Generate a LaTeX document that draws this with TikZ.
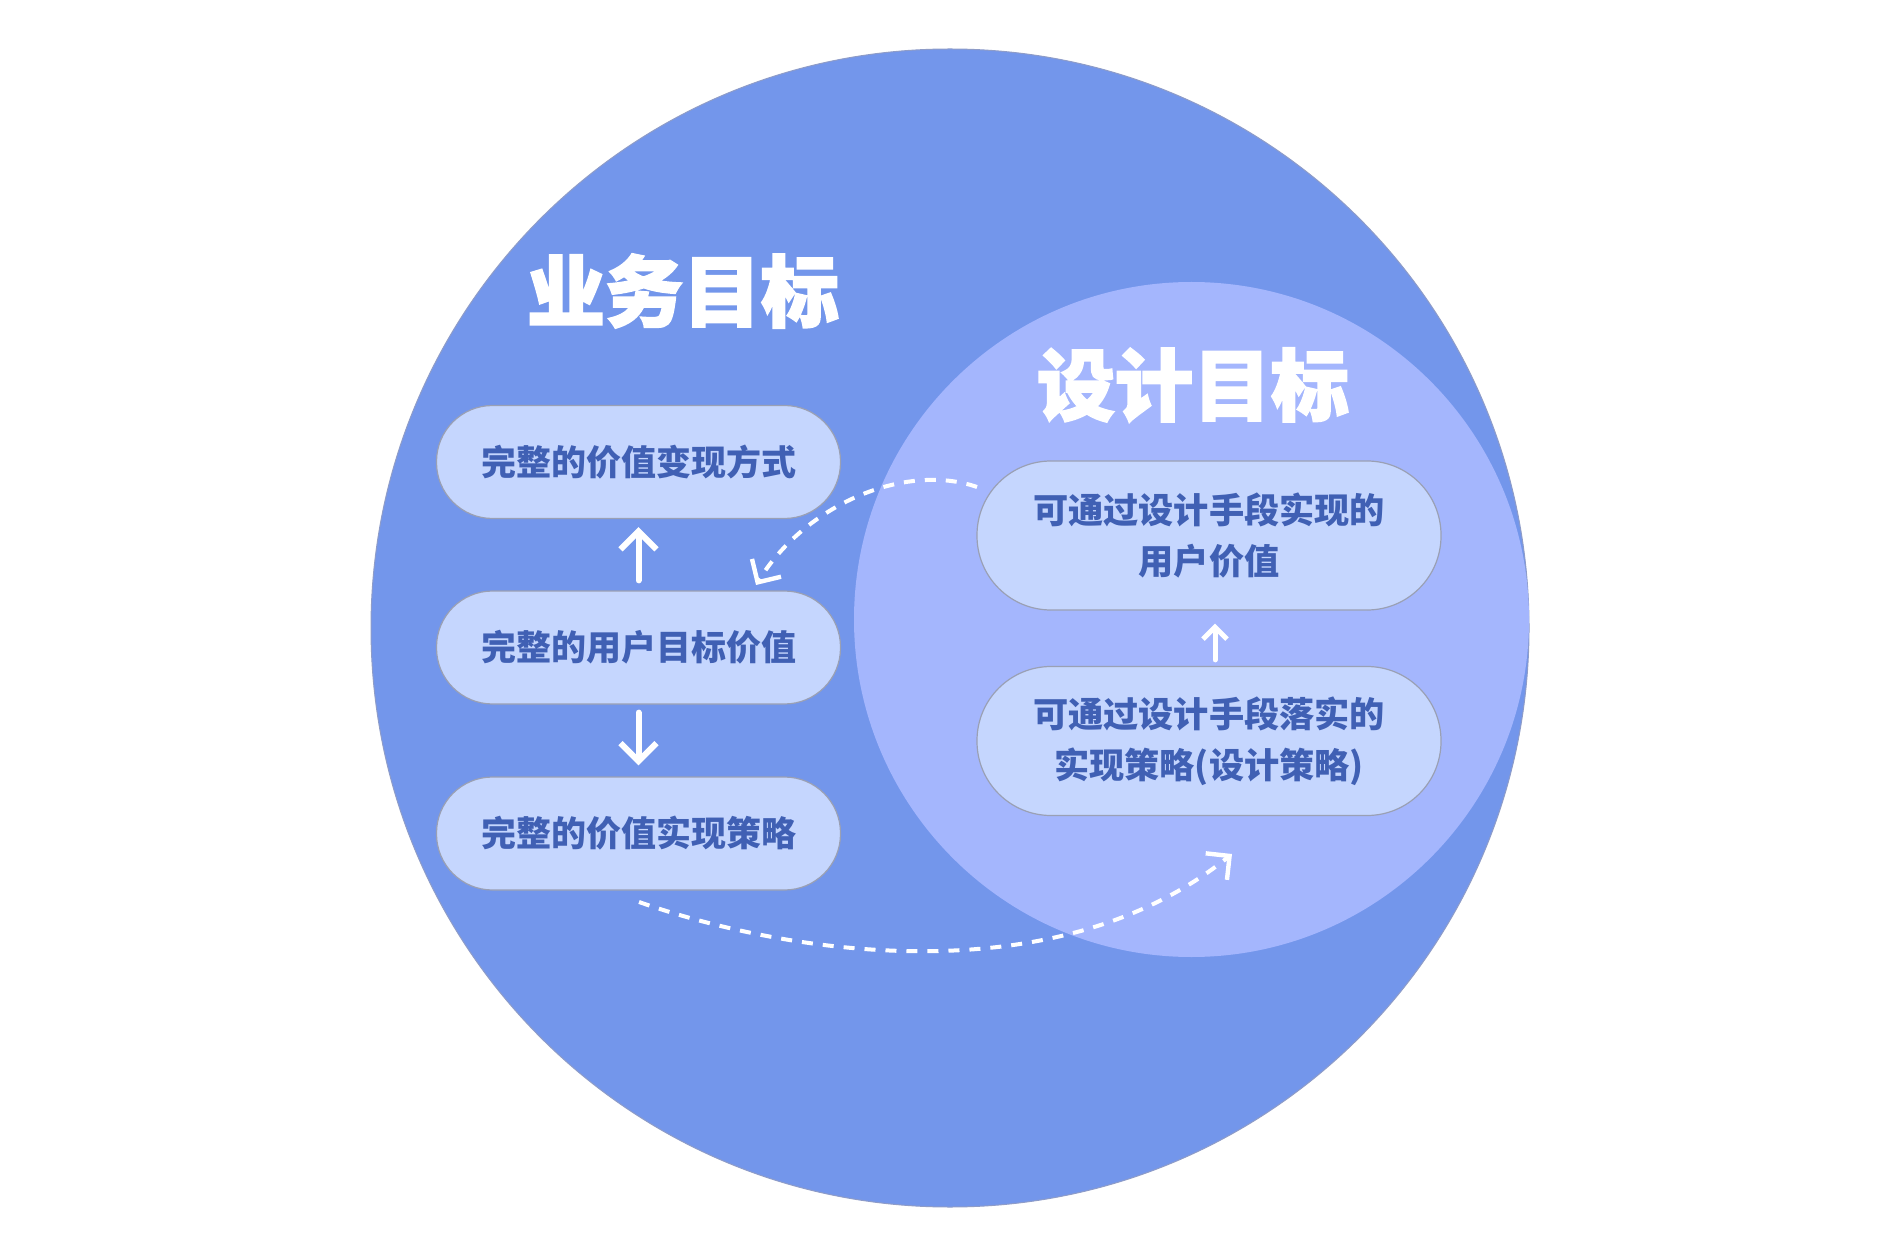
\documentclass[tikz,border=0pt]{standalone}
\usepackage{fontspec}
\usetikzlibrary{arrows.meta,calc}
\newfontfamily\cjk{Noto Sans CJK SC}
\newfontfamily\cjkt{Noto Sans CJK SC}[BoldFeatures={FakeBold=2.5}]
\definecolor{bigc}{HTML}{7396EB}
\definecolor{smallc}{HTML}{A4B6FD}
\definecolor{boxc}{HTML}{C5D6FE}
\definecolor{txtc}{HTML}{4060B4}
\definecolor{boxline}{HTML}{9AA0B4}
\definecolor{rimc}{HTML}{8E9CC8}
\begin{document}
\begin{tikzpicture}[x=0.5pt,y=-0.5pt,
  lbox/.style={draw=boxline, line width=0.6pt, fill=boxc, rounded corners=28pt,
    minimum width=202pt, minimum height=56.5pt, inner sep=0pt,
    font=\cjk\bfseries\fontsize{17.5}{21}\selectfont, text=txtc},
  rbox/.style={draw=boxline, line width=0.6pt, fill=boxc, rounded corners=37pt,
    minimum width=232pt, minimum height=74.5pt, inner sep=0pt, align=center,
    font=\cjk\bfseries\fontsize{17.6}{25.5}\selectfont, text=txtc},
  titletext/.style={text=white, inner sep=0pt, font=\cjkt\bfseries\fontsize{39}{44}\selectfont},
  flow/.style={draw=white, line width=3pt, line cap=round,
    -{Straight Barb[length=9pt,width=18pt,line width=3pt]}},
  flowsmall/.style={draw=white, line width=2.5pt, line cap=round,
    -{Straight Barb[length=6pt,width=12pt,line width=2.5pt]}},
  dashlink/.style={draw=white, line width=2pt, dash pattern=on 5.5pt off 5pt,
    -{Straight Barb[length=8.5pt,width=17pt,line width=2.2pt]}}
]
\useasboundingbox (0,0) rectangle (1900,1256);
\fill[white] (0,0) rectangle (1900,1256);
% circles
\fill[bigc, draw=rimc, line width=0.5pt] (950,628) circle[radius=289.5pt];
\fill[smallc] (1191.5,619.5) circle[radius=168.75pt];
% titles
\node[titletext] (t1) at (683,291) {业务目标};
\node[titletext] (t2) at (1193,385) {设计目标};
% left boxes
\node[lbox] (b1) at (638.5,462) {完整的价值变现方式};
\node[lbox] (b2) at (638.5,647.5) {完整的用户目标价值};
\node[lbox] (b3) at (638.5,833.5) {完整的价值实现策略};
% right boxes
\node[rbox] (b4) at (1209,535.5) {可通过设计手段实现的\\用户价值};
\node[rbox] (b5) at (1209,741) {可通过设计手段落实的\\实现策略(设计策略)};
% solid arrows
\draw[flow] ([yshift=5pt]b2.north) -- ([yshift=-4pt]b1.south);
\draw[flow] ([yshift=-4pt]b2.south) -- ([yshift=5.5pt]b3.north);
\draw[flowsmall] ([xshift=3pt,yshift=3pt]b5.north) -- ([xshift=3pt,yshift=-6.5pt]b4.south);
% dashed links
\coordinate (s1) at (977,487);
\coordinate (e1) at (756,585);
\coordinate (s2) at (639,902);
\coordinate (e2) at (1232,854);
\draw[dashlink] (s1) .. controls (905,462) and (805,505) .. (e1);
\draw[dashlink] (s2) .. controls (800,958) and (1060,992) .. (e2);
\end{tikzpicture}
\end{document}
